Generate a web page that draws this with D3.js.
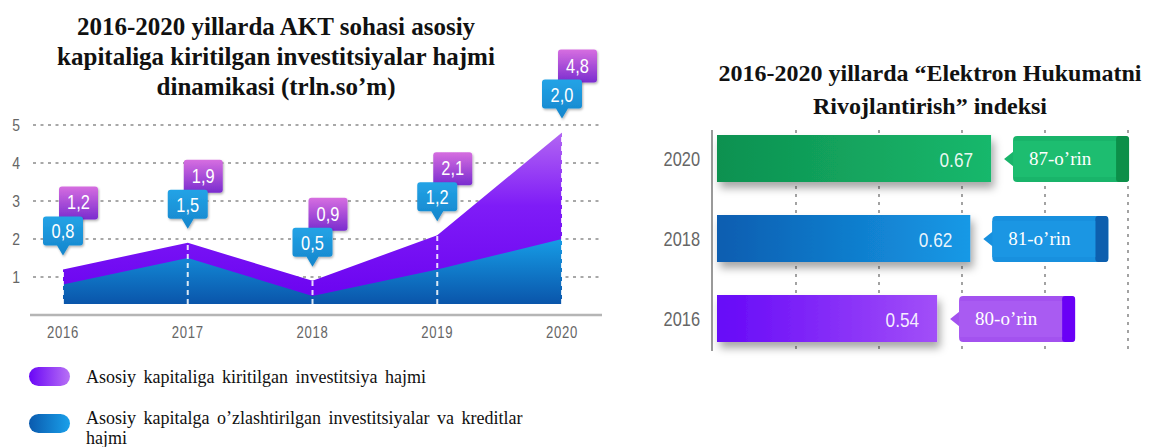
<!DOCTYPE html>
<html><head><meta charset="utf-8">
<script src="https://cdn.jsdelivr.net/npm/d3@7"></script>
<style>html,body{margin:0;padding:0;background:#fff;overflow:hidden}</style>
</head><body>
<svg id="c" width="1153" height="447"></svg>
<script>
// ---------- data ----------
const years = ['2016', '2017', '2018', '2019', '2020'];
const investTotal = [1.2, 1.9, 0.9, 2.1, 4.8];   // Asosiy kapitaliga kiritilgan investitsiya hajmi
const investCredit = [0.8, 1.5, 0.5, 1.2, 2.0];  // o'zlashtirilgan investitsiyalar va kreditlar
const yTicks = [1, 2, 3, 4, 5];
const leftTitle = ['2016-2020 yillarda AKT sohasi asosiy', 'kapitaliga kiritilgan investitsiyalar hajmi', 'dinamikasi (trln.so’m)'];
const legendLabels = [['Asosiy kapitaliga kiritilgan investitsiya hajmi'], ['Asosiy kapitalga o’zlashtirilgan investitsiyalar va kreditlar', 'hajmi']];

const egovYears = ['2020', '2018', '2016'];
const egovIndex = [0.67, 0.62, 0.54];
const egovRank = ['87-o’rin', '81-o’rin', '80-o’rin'];
const egovTicks = [0.2, 0.4, 0.6, 0.8, 1.0];
const rightTitle = ['2016-2020 yillarda “Elektron Hukumatni', 'Rivojlantirish” indeksi'];

// ---------- setup ----------
const SANS = "'Liberation Sans',Arial,sans-serif";
const SERIF = "'Liberation Serif','Times New Roman',serif";
const svg = d3.select('#c');
svg.append('rect').attr('width', 1153).attr('height', 447).attr('fill', '#fff');
const defs = svg.append('defs');
function grad(id, x1, y1, x2, y2, stops, user) {
  const g = defs.append('linearGradient').attr('id', id)
    .attr('x1', x1).attr('y1', y1).attr('x2', x2).attr('y2', y2);
  if (user) g.attr('gradientUnits', 'userSpaceOnUse');
  stops.forEach(s => g.append('stop').attr('offset', s[0]).attr('stop-color', s[1]));
}
grad('gPurpleArea', 0, 125, 0, 304, [['0%', '#b86ef2'], ['45%', '#7f1cf7'], ['100%', '#6a02f0']], true);
grad('gBlueArea', 0, 230, 0, 304, [['0%', '#18a6ee'], ['100%', '#0a55aa']], true);
grad('gPurpleBox', 0, 0, 0, 1, [['0%', '#d66ee0'], ['100%', '#7a2ccf']]);
grad('gBlueBox', 0, 0, 0, 1, [['0%', '#23a3e6'], ['100%', '#1585cc']]);
grad('gLegP', 0, 0, 1, 0, [['0%', '#6a06f6'], ['100%', '#b871f5']]);
grad('gLegB', 0, 0, 1, 0, [['0%', '#0a5aae'], ['100%', '#1aa0ea']]);
grad('gBar0', 0, 0, 1, 0, [['0%', '#0e9150'], ['100%', '#17b86c']]);
grad('gBar1', 0, 0, 1, 0, [['0%', '#0a5db0'], ['100%', '#1699e6']]);
grad('gBar2', 0, 0, 1, 0, [['0%', '#6608f8'], ['100%', '#a24ff8']]);
const sh = defs.append('filter').attr('id', 'shadow').attr('x', '-10%').attr('y', '-20%').attr('width', '130%').attr('height', '170%');
sh.append('feDropShadow').attr('dx', 3).attr('dy', 6).attr('stdDeviation', 4).attr('flood-color', '#000').attr('flood-opacity', 0.35);
const sh2 = defs.append('filter').attr('id', 'shadow2').attr('x', '-20%').attr('y', '-20%').attr('width', '150%').attr('height', '150%');
sh2.append('feDropShadow').attr('dx', 1).attr('dy', 1.5).attr('stdDeviation', 1.2).attr('flood-color', '#000').attr('flood-opacity', 0.3);

const commaFmt = d3.formatLocale({decimal: ',', thousands: ' ', grouping: [3], currency: ['', '']}).format('.1f');

// condensed sans text via horizontal scaling
function narrow(sel, fx, fy, size) {
  return sel.attr('x', 0).attr('y', 0)
    .attr('transform', (d, i) => `translate(${fx(d, i)},${fy(d, i)}) scale(0.82,1)`)
    .attr('font-family', SANS).attr('font-size', size);
}

// ---------- left chart ----------
const x = d3.scalePoint().domain(years).range([63, 562]);
const y = d3.scaleLinear().domain([0, 5]).range([315, 125]);
const baseY = y(0) - 11;

const L = svg.append('g');
L.selectAll('text.title').data(leftTitle).join('text')
  .attr('x', 276).attr('y', (d, i) => 35 + i * 30)
  .attr('text-anchor', 'middle').attr('font-family', SERIF).attr('font-weight', 'bold')
  .attr('font-size', 25).attr('fill', '#111').text(d => d);

// gridlines
L.selectAll('line.grid').data(yTicks).join('line')
  .attr('x1', 33).attr('x2', 600).attr('y1', d => y(d)).attr('y2', d => y(d))
  .attr('stroke', '#8c8c8c').attr('stroke-width', 1.6).attr('stroke-dasharray', '3,4.5');
narrow(L.selectAll('text.ytick').data(yTicks).join('text'), () => 16, d => y(d) + 6, 17)
  .attr('text-anchor', 'middle').attr('fill', '#666').text(d => d);

// x axis line
L.append('line').attr('x1', 30).attr('x2', 602).attr('y1', y(0)).attr('y2', y(0))
  .attr('stroke', '#b5b5b5').attr('stroke-width', 2.5);
narrow(L.selectAll('text.xtick').data(years).join('text'), d => x(d), () => 338, 16)
  .attr('text-anchor', 'middle').attr('letter-spacing', 0.8).attr('fill', '#666').text(d => d);

// areas
const areaGen = d3.area().x((d, i) => x(years[i])).y0(baseY).y1(d => y(d));
L.append('path').datum(investTotal).attr('d', areaGen).attr('fill', 'url(#gPurpleArea)');
L.append('path').datum(investCredit).attr('d', areaGen).attr('fill', 'url(#gBlueArea)');

// vertical dashed lines
L.selectAll('line.vd').data(investTotal).join('line')
  .attr('x1', (d, i) => x(years[i])).attr('x2', (d, i) => x(years[i]))
  .attr('y1', baseY).attr('y2', d => y(d))
  .attr('stroke', '#fff').attr('stroke-opacity', 0.85).attr('stroke-width', 2).attr('stroke-dasharray', '5,4');

// callouts
years.forEach((yr, i) => {
  const cx = x(yr);
  const tipY = y(investTotal[i]) - 14;
  const bw = 40, bh = 29, bTop = tipY - 10 - bh, bLeft = cx - bw / 2;
  const pLeft = bLeft + 16, pTop = bTop - 30, pw = 39, ph = 33;
  const g = L.append('g');
  g.append('rect').attr('x', pLeft).attr('y', pTop).attr('width', pw).attr('height', ph).attr('rx', 3)
    .attr('fill', 'url(#gPurpleBox)').attr('filter', 'url(#shadow2)');
  narrow(g.append('text'), () => pLeft + pw / 2, () => pTop + 23, 20)
    .attr('text-anchor', 'middle').attr('fill', '#fff').text(commaFmt(investTotal[i]));
  const path = d3.path();
  path.moveTo(bLeft + 3, bTop);
  path.lineTo(bLeft + bw - 3, bTop);
  path.quadraticCurveTo(bLeft + bw, bTop, bLeft + bw, bTop + 3);
  path.lineTo(bLeft + bw, bTop + bh - 3);
  path.quadraticCurveTo(bLeft + bw, bTop + bh, bLeft + bw - 3, bTop + bh);
  path.lineTo(cx + 6, bTop + bh);
  path.lineTo(cx, tipY);
  path.lineTo(cx - 6, bTop + bh);
  path.lineTo(bLeft + 3, bTop + bh);
  path.quadraticCurveTo(bLeft, bTop + bh, bLeft, bTop + bh - 3);
  path.lineTo(bLeft, bTop + 3);
  path.quadraticCurveTo(bLeft, bTop, bLeft + 3, bTop);
  path.closePath();
  g.append('path').attr('d', path.toString()).attr('fill', 'url(#gBlueBox)').attr('filter', 'url(#shadow2)');
  narrow(g.append('text'), () => cx, () => bTop + 22, 20)
    .attr('text-anchor', 'middle').attr('fill', '#fff').text(commaFmt(investCredit[i]));
});

// legend
const legFills = ['url(#gLegP)', 'url(#gLegB)'];
const legTops = [367, 414];
const legBase = [383, 424];
legendLabels.forEach((lines, k) => {
  L.append('rect').attr('x', 29).attr('y', legTops[k]).attr('width', 41).attr('height', 19).attr('rx', 9.5)
    .attr('fill', legFills[k]);
  lines.forEach((t, j) => {
    L.append('text').attr('x', 86).attr('y', legBase[k] + j * 20)
      .attr('font-family', SERIF).attr('font-size', 18).attr('word-spacing', 3).attr('fill', '#111').text(t);
  });
});

// ---------- right chart ----------
const R = svg.append('g');
R.selectAll('text.rtitle').data(rightTitle).join('text')
  .attr('x', 930).attr('y', (d, i) => 81 + i * 33)
  .attr('text-anchor', 'middle').attr('font-family', SERIF).attr('font-weight', 'bold')
  .attr('font-size', 24).attr('fill', '#111').text(d => d);

const xs = d3.scaleLinear().domain([0, 1]).range([713, 1128]);
const ys = d3.scaleBand().domain(egovYears).range([118.5, 358.5]).paddingInner(0.4125).paddingOuter(0.20625);

R.selectAll('line.rg').data(egovTicks).join('line')
  .attr('x1', d => xs(d)).attr('x2', d => xs(d)).attr('y1', 130).attr('y2', 350)
  .attr('stroke', '#8c8c8c').attr('stroke-width', 1.6).attr('stroke-dasharray', '3,5');
R.append('line').attr('x1', xs(0) - 1).attr('x2', xs(0) - 1).attr('y1', 130).attr('y2', 351)
  .attr('stroke', '#9a9a9a').attr('stroke-width', 2);

narrow(R.selectAll('text.ry').data(egovYears).join('text'), () => 700, d => ys(d) + ys.bandwidth() / 2 + 7, 20)
  .attr('text-anchor', 'end').attr('fill', '#666').text(d => d);

R.selectAll('rect.bar').data(egovIndex).join('rect')
  .attr('x', xs(0) + 4).attr('y', (d, i) => ys(egovYears[i]))
  .attr('width', d => xs(d) - xs(0) - 4).attr('height', ys.bandwidth())
  .attr('fill', (d, i) => `url(#gBar${i})`).attr('filter', 'url(#shadow)');
narrow(R.selectAll('text.bv').data(egovIndex).join('text'), d => xs(d) - 18, (d, i) => ys(egovYears[i]) + ys.bandwidth() / 2 + 8, 21)
  .attr('text-anchor', 'end').attr('fill', '#fff').attr('fill-opacity', 0.92).text(d => d3.format('.2f')(d));

const boxMain = ['#19b46a', '#1890de', '#a352ef'];
const boxInner = ['#1dbd70', '#1b96e3', '#a95bf2'];
const boxStrip = ['#0c8f49', '#0d5fae', '#6a00f6'];
egovIndex.forEach((v, i) => {
  const top = ys(egovYears[i]) + 1, h = ys.bandwidth() - 1, left = xs(v) + 22, w = 116;
  const cy = top + h / 2;
  const g = R.append('g');
  g.append('path').attr('d', `M${left - 9},${cy} L${left + 1},${cy - 8} L${left + 1},${cy + 8} Z`).attr('fill', boxMain[i]);
  g.append('rect').attr('x', left).attr('y', top).attr('width', w).attr('height', h).attr('rx', 4).attr('fill', boxMain[i]);
  g.append('rect').attr('x', left + w - 13).attr('y', top).attr('width', 13).attr('height', h).attr('rx', 3).attr('fill', boxStrip[i]);
  g.append('rect').attr('x', left).attr('y', top + 5).attr('width', w - 13).attr('height', h - 10).attr('fill', boxInner[i]);
  g.append('text').attr('x', left + 16).attr('y', cy + 6).attr('font-family', SERIF).attr('font-size', 19)
    .attr('fill', '#fff').text(egovRank[i]);
});
</script>
</body></html>
